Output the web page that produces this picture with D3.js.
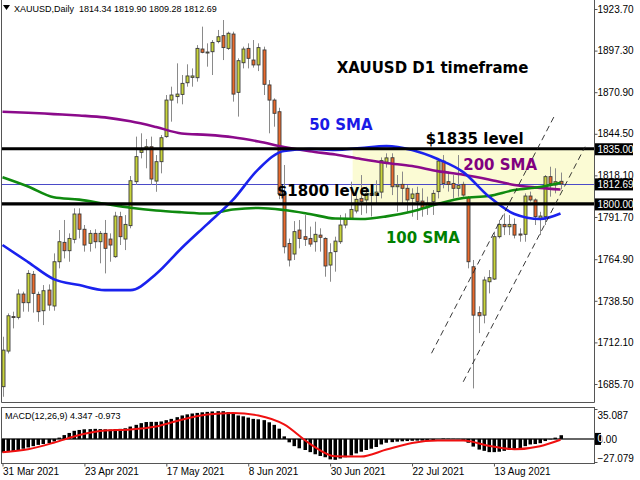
<!DOCTYPE html>
<html><head><meta charset="utf-8">
<script src="https://cdn.jsdelivr.net/npm/d3@7"></script>
<style>body{margin:0;background:#fff;} svg{display:block;}</style>
</head><body>
<svg id="c" width="640" height="480"></svg>
<script>
// ---- DATA ----
const openP = [1684.0,1706.6,1728.5,1728.0,1742.8,1737.3,1755.3,1742.6,1732.2,1745.3,
1735.2,1763.3,1775.6,1770.3,1777.5,1793.6,1783.9,1775.0,1781.3,1776.0,
1781.3,1777.7,1766.5,1791.9,1777.7,1786.2,1814.1,1832.7,1835.3,1836.3,
1814.5,1826.8,1842.7,1865.9,1868.1,1869.5,1876.9,1880.3,1880.1,1898.3,
1895.8,1896.6,1903.0,1906.8,1898.7,1907.8,1870.8,1889.6,1898.7,1891.3,
1888.2,1897.7,1875.5,1865.9,1858.5,1806.5,1774.9,1768.2,1783.4,1779.2,
1778.1,1776.0,1780.2,1778.1,1761.2,1769.7,1776.0,1786.6,1790.8,1795.5,
1803.5,1802.5,1806.7,1805.5,1807.5,1826.5,1829.3,1810.9,1812.4,1809.9,
1803.5,1806.7,1801.8,1797.6,1801.4,1807.8,1827.2,1814.1,1813.0,1809.9,
1812.4,1804.0,1760.1,1731.0,1729.4,1750.6,1752.3,1779.2,1787.0,1785.5,
1787.0,1780.9,1780.7,1805.0,1802.5,1790.8,1791.9,1817.3,1812.0,1814.34];
const highP = [1715.7,1730.5,1731.6,1745.8,1744.3,1758.0,1757.4,1744.3,1748.5,1748.9,
1768.6,1783.4,1789.8,1781.3,1797.2,1797.2,1786.6,1783.4,1783.9,1782.8,
1789.8,1781.3,1795.0,1795.0,1792.9,1817.7,1842.7,1844.8,1841.2,1842.7,
1831.0,1843.7,1869.1,1874.4,1889.2,1881.8,1888.6,1886.0,1900.8,1912.5,
1901.9,1904.0,1910.4,1916.7,1909.3,1909.3,1892.4,1899.8,1901.9,1904.0,
1901.9,1899.8,1878.6,1867.0,1861.0,1824.7,1778.0,1789.1,1789.8,1792.9,
1785.6,1788.7,1784.5,1778.8,1775.0,1779.2,1793.0,1794.0,1814.1,1809.9,
1818.3,1810.9,1812.0,1815.0,1829.5,1832.1,1832.1,1818.3,1820.5,1812.0,
1809.9,1810.9,1809.9,1804.6,1808.8,1828.9,1831.0,1820.5,1818.3,1831.0,
1814.1,1805.0,1764.4,1735.0,1753.8,1758.0,1782.4,1789.8,1794.0,1792.9,
1790.8,1784.5,1806.7,1807.8,1803.5,1795.0,1818.3,1823.6,1822.6,1819.90];
const lowP = [1677.6,1705.1,1721.0,1726.7,1731.6,1731.6,1731.0,1725.2,1723.1,1732.2,
1732.2,1759.1,1765.4,1763.3,1775.0,1778.1,1769.7,1769.7,1771.8,1762.3,
1755.9,1763.3,1765.8,1773.9,1770.7,1784.5,1812.0,1828.9,1822.6,1812.0,
1807.7,1819.4,1842.0,1852.2,1863.8,1863.2,1874.4,1874.4,1877.6,1895.6,
1887.1,1881.8,1901.9,1891.3,1897.7,1864.9,1855.4,1886.0,1886.0,1886.5,
1884.3,1869.1,1844.8,1849.0,1803.0,1768.6,1760.3,1764.4,1771.8,1773.3,
1772.8,1769.7,1769.7,1753.8,1750.6,1757.0,1774.6,1784.5,1789.8,1794.0,
1793.0,1794.0,1792.0,1799.5,1803.5,1823.0,1805.6,1795.0,1799.3,1795.0,
1791.9,1789.8,1791.9,1793.0,1793.0,1803.5,1809.9,1807.8,1803.5,1804.6,
1804.6,1759.1,1682.9,1718.0,1724.2,1743.2,1751.7,1778.1,1780.2,1780.2,
1778.1,1776.0,1776.0,1801.4,1786.6,1780.2,1786.6,1804.6,1806.7,1809.28];
const closeP = [1707.2,1729.0,1728.0,1742.8,1737.3,1755.9,1743.2,1731.6,1744.9,1735.8,
1763.3,1776.0,1770.3,1778.1,1793.6,1783.9,1773.9,1781.3,1776.0,1781.3,
1771.8,1773.9,1792.3,1779.2,1787.0,1814.7,1830.0,1834.2,1836.3,1815.8,
1826.8,1842.0,1865.9,1869.1,1869.7,1876.5,1881.2,1881.2,1898.7,1896.2,
1896.4,1902.5,1906.1,1899.2,1908.3,1869.7,1890.9,1898.3,1892.4,1888.2,
1899.2,1875.9,1865.9,1857.5,1806.5,1772.8,1764.4,1782.4,1778.1,1777.5,
1774.5,1780.7,1778.8,1760.6,1769.0,1776.4,1786.6,1790.8,1796.5,1802.9,
1801.4,1806.7,1805.5,1807.5,1827.5,1829.2,1810.9,1812.0,1809.9,1802.5,
1806.3,1801.4,1797.6,1800.0,1806.7,1827.2,1813.0,1812.4,1809.9,1811.6,
1805.6,1763.3,1729.4,1729.0,1751.7,1753.2,1779.2,1787.0,1785.5,1787.0,
1780.2,1780.2,1805.0,1802.5,1791.9,1792.3,1817.3,1813.0,1814.1,1812.69];

// moving averages, read at every 5th bar
const smaIdx = [0,5,10,15,20,25,30,35,40,45,50,55,60,65,70,75,80,85,90,95,100,105,109];
const sma50  = [1773.9,1763.1,1752.3,1748.5,1745.3,1745.3,1755.5,1772.0,1787.2,1802.5,1822.1,1833.6,1834.8,1834.2,1835.5,1836.7,1834.2,1828.5,1820.2,1804.7,1793.6,1790.4,1793.9];
const sma100 = [1816.9,1811.0,1804.2,1802.7,1800.1,1797.6,1795.8,1794.7,1793.9,1796.4,1797.4,1796.1,1793.6,1790.7,1790.4,1792.1,1795.2,1799.9,1803.7,1805.0,1808.8,1810.7,1813.4];
const sma200 = [1858.5,1857.9,1857.0,1856.1,1854.9,1852.4,1848.8,1844.7,1843.8,1842.3,1839.6,1836.1,1833.4,1831.3,1828.5,1826.0,1824.0,1820.8,1818.5,1815.5,1812.0,1810.2,1809.1];

// MACD(12,26,9): main as histogram (per bar), signal (read at every 5th bar)
const macdMain = [-16,-15.5,-14.5,-13,-11.5,-10,-8.5,-7,-6,-5,
-3,1.5,4.5,7,9.5,10.5,11.3,11.5,11.8,11.5,
11.3,11,11.5,11.8,12.5,14.5,16.5,18.5,19.8,20,
20,20.5,22,23.5,25.5,27.5,28.8,29.8,30.5,31.2,
31.7,32.2,32.5,32.5,31.5,29.5,27.5,26.5,25,23.5,
23,22,19.5,16.5,12,3,-4,-8.5,-11,-13,
-15.5,-18,-20,-21.5,-24,-24.5,-23,-21.5,-19.5,-17,
-15,-13,-11.5,-9.5,-6.5,-4.5,-3.8,-3.2,-2.8,-2.5,
-2.2,-2,-2,-1.8,-1.5,0,0.5,0.3,0.2,-0.2,
-1,-4.5,-9,-12.5,-14,-15.5,-15.5,-15,-14,-13,
-12,-11,-8.5,-6.5,-6,-5,-2.5,-0.5,1.5,4.347];
const macdSignal = [-15.6,-12.0,-4.5,4.5,9.9,11.0,14.5,22.5,28.5,30.5,27.5,17,-5.5,-20.3,-20.7,-12.5,-4.8,-1.9,-2.0,-8,-12,-8.5,-0.973];

const priceTicks = [1923.70,1897.30,1870.90,1844.50,1818.10,1791.70,1764.90,1738.50,1712.10,1685.70];
const dateIdx = [0,16,32,48,64,80,96];
const dateLabels = ["31 Mar 2021","23 Apr 2021","17 May 2021","8 Jun 2021","30 Jun 2021","22 Jul 2021","13 Aug 2021"];
const levels = [1835.00, 1800.00];
const bidPrice = 1812.69;
const zoneBar = 68.4;               // left edge of shaded zone (bar position)
const chan1 = [[83.8,1705.2],[107.9,1856.4]];
const chan2 = [[90.0,1687.1],[113.8,1836.3]];
const notes = [
  {t:"XAUUSD D1 timeframe", bar:65.3, p:1882.8, c:"#000000"},
  {t:"50 SMA", bar:59.9, p:1846.9, c:"#1a1ae6"},
  {t:"$1835 level", bar:82.7, p:1838.3, c:"#000000"},
  {t:"200 SMA", bar:90.0, p:1821.5, c:"#800080"},
  {t:"$1800 level.", bar:53.6, p:1805.0, c:"#000000"},
  {t:"100 SMA", bar:74.9, p:1775.2, c:"#008000"}
];

// ---- LAYOUT ----
const N = closeP.length;
const plotL = 1.5, plotR = 594.5, mainBot = 402.5, macdTop = 407.5, macdBot = 463.5;
const x = d3.scaleLinear().domain([0, N-1]).range([2.5, 560.5]);
const y = d3.scaleLinear().domain([1685.7, 1923.7]).range([384, 9]);
const ym = d3.scaleLinear().domain([-27.079, 35.087]).range([462, 409]);
const px = i => Math.round(x(i)) + 0.5;

const svg = d3.select("#c");
svg.append("rect").attr("width",640).attr("height",480).attr("fill","#fff");
const defs = svg.append("defs");
defs.append("clipPath").attr("id","mclip").append("rect").attr("x",plotL).attr("y",0).attr("width",plotR-plotL).attr("height",mainBot);
defs.append("clipPath").attr("id","hclip").append("rect").attr("x",plotL).attr("y",macdTop).attr("width",plotR-plotL).attr("height",macdBot-macdTop);

const main = svg.append("g").attr("clip-path","url(#mclip)");

// shaded zone
main.append("rect").attr("x",x(zoneBar)).attr("y",y(levels[0])).attr("width",plotR-x(zoneBar)).attr("height",y(levels[1])-y(levels[0])).attr("fill","#fbfbd4");

// bid line
main.append("line").attr("x1",plotL).attr("x2",plotR).attr("y1",Math.round(y(bidPrice))+0.5).attr("y2",Math.round(y(bidPrice))+0.5).attr("stroke","#4a4ac8").attr("stroke-width",1);

const bars = d3.range(N).map(i=>({i,o:openP[i],h:highP[i],l:lowP[i],c:closeP[i]}));
main.append("g").selectAll("line").data(bars).join("line")
  .attr("x1",d=>px(d.i)).attr("x2",d=>px(d.i))
  .attr("y1",d=>y(d.h)).attr("y2",d=>y(d.l))
  .attr("stroke","#8a8a8a").attr("stroke-width",1);
main.append("g").selectAll("rect").data(bars).join("rect")
  .attr("x",d=>px(d.i)-1.5).attr("width",3)
  .attr("y",d=>y(Math.max(d.o,d.c)))
  .attr("height",d=>Math.max(1,Math.abs(y(d.o)-y(d.c))))
  .attr("fill",d=>d.c>=d.o?"#c8d43a":"#ea6a2c")
  .attr("stroke","#3a3a3a").attr("stroke-width",0.9);

// SMAs
const smaLine = d3.line().x(d=>x(d[0])).y(d=>y(d[1])).curve(d3.curveMonotoneX);
[[sma200,"#8b0a8b"],[sma100,"#0f8a0f"],[sma50,"#1a22ee"]].forEach(([arr,col])=>{
  main.append("path").datum(smaIdx.map((b,k)=>[b,arr[k]])).attr("d",smaLine)
    .attr("fill","none").attr("stroke",col).attr("stroke-width",2.6).attr("stroke-linejoin","round");
});

// level lines
levels.forEach(p=>{
  main.append("line").attr("x1",plotL).attr("x2",plotR).attr("y1",y(p)).attr("y2",y(p)).attr("stroke","#000").attr("stroke-width",3.2);
});

// channel lines
const cl = d3.line().x(d=>x(d[0])).y(d=>y(d[1]));
[chan1,chan2].forEach(c=>{
  main.append("path").attr("d",cl(c)).attr("fill","none").attr("stroke","#222").attr("stroke-width",0.9).attr("stroke-dasharray","6,4");
});

// annotations
main.append("g").selectAll("text").data(notes).join("text")
  .attr("x",d=>x(d.bar)).attr("y",d=>y(d.p)).text(d=>d.t)
  .attr("fill",d=>d.c).attr("font-family","'DejaVu Sans', Verdana, sans-serif")
  .attr("font-weight","bold").attr("font-size",15);

// frame
svg.append("line").attr("x1",plotL).attr("x2",plotL).attr("y1",0).attr("y2",mainBot).attr("stroke","#555");
svg.append("line").attr("x1",plotL).attr("x2",plotR).attr("y1",mainBot).attr("y2",mainBot).attr("stroke","#555");
svg.append("line").attr("x1",plotR).attr("x2",plotR).attr("y1",0).attr("y2",mainBot).attr("stroke","#555");
svg.append("rect").attr("x",plotL).attr("y",macdTop).attr("width",plotR-plotL).attr("height",macdBot-macdTop).attr("fill","none").attr("stroke","#555");

// price axis
const font = "'Liberation Sans', Arial, sans-serif";
const ax = svg.append("g").attr("transform",`translate(${plotR},0)`)
  .call(d3.axisRight(y).tickValues(priceTicks).tickFormat(d=>d.toFixed(2)).tickSizeInner(3).tickSizeOuter(0).tickPadding(0));
ax.select(".domain").remove();
ax.selectAll("line").attr("stroke","#555");
ax.selectAll("text").attr("font-family",font).attr("font-size",10).attr("fill","#000");

// highlighted price labels
[[levels[0],"1835.00"],[bidPrice,"1812.69"],[levels[1],"1800.00"]].forEach(([p,t])=>{
  const yy = y(p);
  svg.append("rect").attr("x",plotR+0.5).attr("y",yy-5.5).attr("width",38).attr("height",12).attr("fill","#000");
  svg.append("text").attr("x",plotR+3).attr("y",yy+4.5).text(t).attr("font-family",font).attr("font-size",10).attr("fill","#fff");
});

// MACD
const hg = svg.append("g").attr("clip-path","url(#hclip)");
hg.append("line").attr("x1",plotL).attr("x2",plotR).attr("y1",ym(0)).attr("y2",ym(0)).attr("stroke","#666").attr("stroke-width",2);
hg.selectAll("rect.h").data(macdMain.map((v,i)=>({i,v}))).join("rect")
  .attr("x",d=>px(d.i)-2).attr("width",3.5)
  .attr("y",d=>Math.min(ym(0),ym(d.v))).attr("height",d=>Math.abs(ym(d.v)-ym(0)))
  .attr("fill","#000");
hg.append("path").datum(smaIdx.map((b,k)=>[b,macdSignal[k]]))
  .attr("d",d3.line().x(d=>x(d[0])).y(d=>ym(d[1])).curve(d3.curveMonotoneX))
  .attr("fill","none").attr("stroke","#f01010").attr("stroke-width",2);
svg.append("text").attr("x",5).attr("y",419).text("MACD(12,26,9) 4.347 -0.973")
  .attr("font-family",font).attr("font-size",9).attr("fill","#000");

const macdTicks = [35.087, 0, -27.079];
const am = svg.append("g").attr("transform",`translate(${plotR},0)`)
  .call(d3.axisRight(ym).tickValues(macdTicks).tickFormat(d=>d===0?"0.00":d3.format(".3f")(d)).tickSizeInner(3).tickSizeOuter(0).tickPadding(0));
am.select(".domain").remove();
am.selectAll("line").attr("stroke","#555");
am.selectAll("text").attr("font-family",font).attr("font-size",10).attr("fill","#000")
  .attr("dy",d=>d>20?"0.95em":(d<-20?"-0.05em":"0.32em"));
svg.append("rect").attr("x",plotR+0.5).attr("y",ym(0)-6).attr("width",6).attr("height",12).attr("fill","#000");
svg.append("text").attr("x",plotR+3).attr("y",ym(0)+3.5).text("0").attr("font-family",font).attr("font-size",10).attr("fill","#fff");

// date axis
const dx = svg.append("g").attr("transform",`translate(0,${macdBot})`)
  .call(d3.axisBottom(x).tickValues(dateIdx).tickFormat((d,i)=>dateLabels[i]).tickSizeInner(3).tickSizeOuter(0).tickPadding(1));
dx.select(".domain").remove();
dx.selectAll("line").attr("stroke","#555");
dx.selectAll("text").attr("font-family",font).attr("font-size",10).attr("fill","#000").attr("text-anchor","start");

// header
svg.append("path").attr("d","M3,5 L10,5 L6.5,10 Z").attr("fill","#000");
svg.append("text").attr("x",14).attr("y",12).text("XAUUSD,Daily  1814.34 1819.90 1809.28 1812.69")
  .attr("font-family",font).attr("font-size",9).attr("fill","#000").style("white-space","pre");
</script>
</body></html>
